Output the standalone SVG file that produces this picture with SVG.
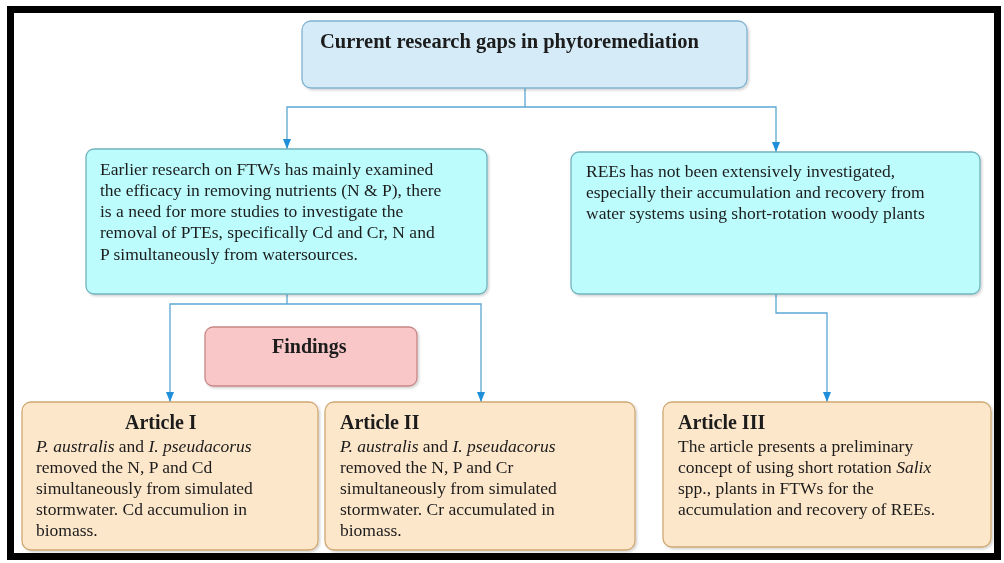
<svg xmlns="http://www.w3.org/2000/svg" width="1004" height="563" viewBox="0 0 1004 563">
<style>
text{font-family:"Liberation Serif","Times New Roman",serif;fill:#1c1c1c}
.b{font-size:17.5px}
.h{font-size:20px;font-weight:bold}
.i{font-style:italic}
.top{fill:#d5ecf8;stroke:#80b3cf;stroke-width:1.3}
.cy{fill:#bcfcfc;stroke:#70b3bd;stroke-width:1.3}
.art{fill:#fde7cb;stroke:#cfa872;stroke-width:1.3}
.fnd{fill:#f9c7c7;stroke:#c98787;stroke-width:1.3}
.c{fill:none;stroke:#5aa7d4;stroke-width:1.3;marker-end:url(#ah)}
.c0{fill:none;stroke:#5aa7d4;stroke-width:1.3}
</style>
<defs>
<marker id="ah" markerUnits="userSpaceOnUse" markerWidth="10" markerHeight="8" refX="10" refY="4" orient="auto">
<path d="M0,0 L10,4 L0,8 z" fill="#1e8fd8"/>
</marker>
<filter id="sh" x="-5%" y="-5%" width="110%" height="115%">
<feDropShadow dx="1.5" dy="1.5" stdDeviation="1.2" flood-color="#000" flood-opacity="0.18"/>
</filter>
</defs>
<rect x="0" y="0" width="1004" height="563" fill="#fff"/>
<rect x="10.5" y="9.5" width="987" height="547" fill="#fff" stroke="#000" stroke-width="7"/>

<g id="connectors">
<path class="c0" d="M525,88 V107"/>
<path class="c" d="M525,107 H287 V149"/>
<path class="c" d="M525,107 H776 V152"/>
<path class="c0" d="M287,294 V304"/>
<path class="c" d="M287,304 H170 V402"/>
<path class="c" d="M287,304 H481 V402"/>
<path class="c" d="M776,294 V313 H827 V402"/>
</g>

<g id="gaps" filter="url(#sh)">
<rect class="top" x="302" y="21" width="445" height="67" rx="9"/>
<text class="h" x="320" y="48" style="font-size:20.5px">Current research gaps in phytoremediation</text>
</g>

<g id="ftw" filter="url(#sh)">
<rect class="cy" x="86" y="149" width="401" height="145" rx="8"/>
<text class="b" x="100" y="175">Earlier research on FTWs has mainly examined</text>
<text class="b" x="100" y="196">the efficacy in removing nutrients (N &amp; P), there</text>
<text class="b" x="100" y="217">is a need for more studies to investigate the</text>
<text class="b" x="100" y="238">removal of PTEs, specifically Cd and Cr, N and</text>
<text class="b" x="100" y="260">P simultaneously from watersources.</text>
</g>

<g id="rees" filter="url(#sh)">
<rect class="cy" x="571" y="152" width="409" height="142" rx="8"/>
<text class="b" x="586" y="177">REEs has not been extensively investigated,</text>
<text class="b" x="586" y="198">especially their accumulation and recovery from</text>
<text class="b" x="586" y="219">water systems using short-rotation woody plants</text>
</g>

<g id="findings" filter="url(#sh)">
<rect class="fnd" x="205" y="327" width="212" height="59" rx="8"/>
<text class="h" x="272" y="353">Findings</text>
</g>

<g id="article1" filter="url(#sh)">
<rect class="art" x="22" y="402" width="296" height="148" rx="9"/>
<text class="h" x="125" y="429">Article I</text>
<text class="b" x="36" y="452"><tspan class="i">P. australis</tspan> and <tspan class="i">I. pseudacorus</tspan></text>
<text class="b" x="36" y="473">removed the N, P and Cd</text>
<text class="b" x="36" y="494">simultaneously from simulated</text>
<text class="b" x="36" y="515">stormwater. Cd accumulion in</text>
<text class="b" x="36" y="536">biomass.</text>
</g>

<g id="article2" filter="url(#sh)">
<rect class="art" x="325" y="402" width="310" height="148" rx="9"/>
<text class="h" x="340" y="429">Article II</text>
<text class="b" x="340" y="452"><tspan class="i">P. australis</tspan> and <tspan class="i">I. pseudacorus</tspan></text>
<text class="b" x="340" y="473">removed the N, P and Cr</text>
<text class="b" x="340" y="494">simultaneously from simulated</text>
<text class="b" x="340" y="515">stormwater. Cr accumulated in</text>
<text class="b" x="340" y="536">biomass.</text>
</g>

<g id="article3" filter="url(#sh)">
<rect class="art" x="663" y="402" width="328" height="145" rx="9"/>
<text class="h" x="678" y="429">Article III</text>
<text class="b" x="678" y="452">The article presents a preliminary</text>
<text class="b" x="678" y="473">concept of using short rotation <tspan class="i">Salix</tspan></text>
<text class="b" x="678" y="494">spp., plants in FTWs for the</text>
<text class="b" x="678" y="515">accumulation and recovery of REEs.</text>
</g>
</svg>
